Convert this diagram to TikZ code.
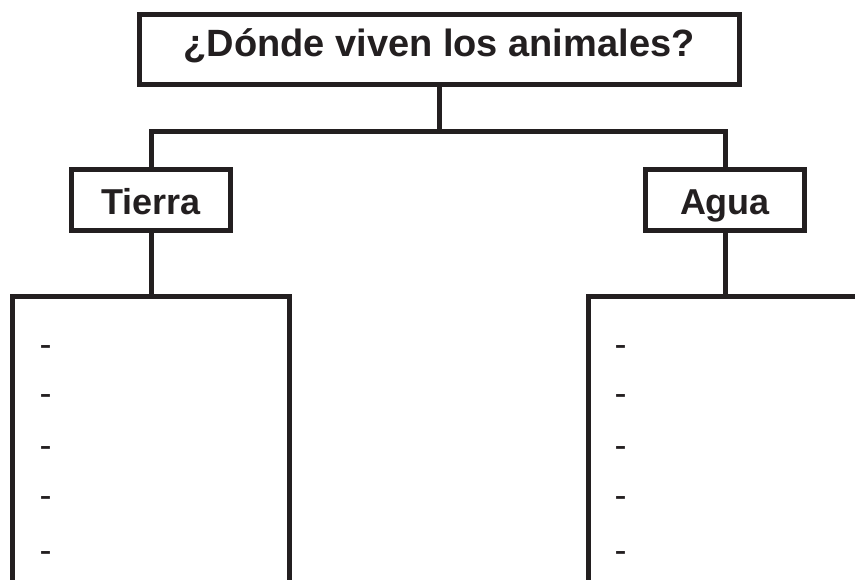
\documentclass[tikz,border=0pt]{standalone}
\usepackage{fontspec}
\setmainfont{Liberation Sans}
\usepackage{tikz}
\usetikzlibrary{positioning,calc}
\definecolor{ink}{RGB}{35,31,32}
\tikzset{%
	titlebox/.style = {draw=ink, rectangle, line width=5pt, inner sep=0pt, minimum width=600pt, minimum height=70pt, text=ink, font=\bfseries\fontsize{38}{40}\selectfont, text height=26pt, text depth=11pt},
	habitat/.style  = {draw=ink, rectangle, line width=5pt, inner sep=0pt, minimum width=159pt, minimum height=61pt, text=ink, font=\bfseries\fontsize{36}{40}\selectfont, text height=28.6pt, text depth=0pt},
	listbox/.style  = {draw=ink, rectangle, line width=5pt, inner sep=0pt, minimum width=277pt, minimum height=400pt},
	listitem/.style = {inner sep=0pt, anchor=mid west, text=ink, font=\fontsize{36}{40}\selectfont},
	link/.style     = {draw=ink, line width=5pt},
}

\begin{document}
\begin{tikzpicture}[x=1pt,y=-1pt]
	\useasboundingbox (0,0) rectangle (855,580);
	\clip (0,0) rectangle (855,580);
	\fill[white] (0,0) rectangle (855,580);
	
	\node[titlebox] (title) at (439,49.5) {¿Dónde viven los animales?};
	
	\node[habitat] (tierra) at (151,200) {Tierra};
	\node[habitat] (agua) at (725,200) {Agua};
	
	\node[listbox] (tierralist) at (151,496.5) {};
	\node[listbox, minimum width=400pt] (agualist) at (788.5,496.5) {};
	
	% tree links
	\coordinate (fork) at (title.south |- 0,131.5);
	\draw[link] (title.south) -- (fork);
	\draw[link] (tierra.north) |- (fork) -| (agua.north);
	\draw[link] (tierra.south) -- (tierralist.north);
	\draw[link] (agua.south) -- (agua.south |- agualist.north);
	
	% dashes
	\foreach \y [count=\i] in {354,403,455,505,560} {
		\node[listitem] (tdash\i) at (39.5,\y) {-};
		\node[listitem] (adash\i) at (614.5,\y) {-};
	}
\end{tikzpicture}
\end{document}
